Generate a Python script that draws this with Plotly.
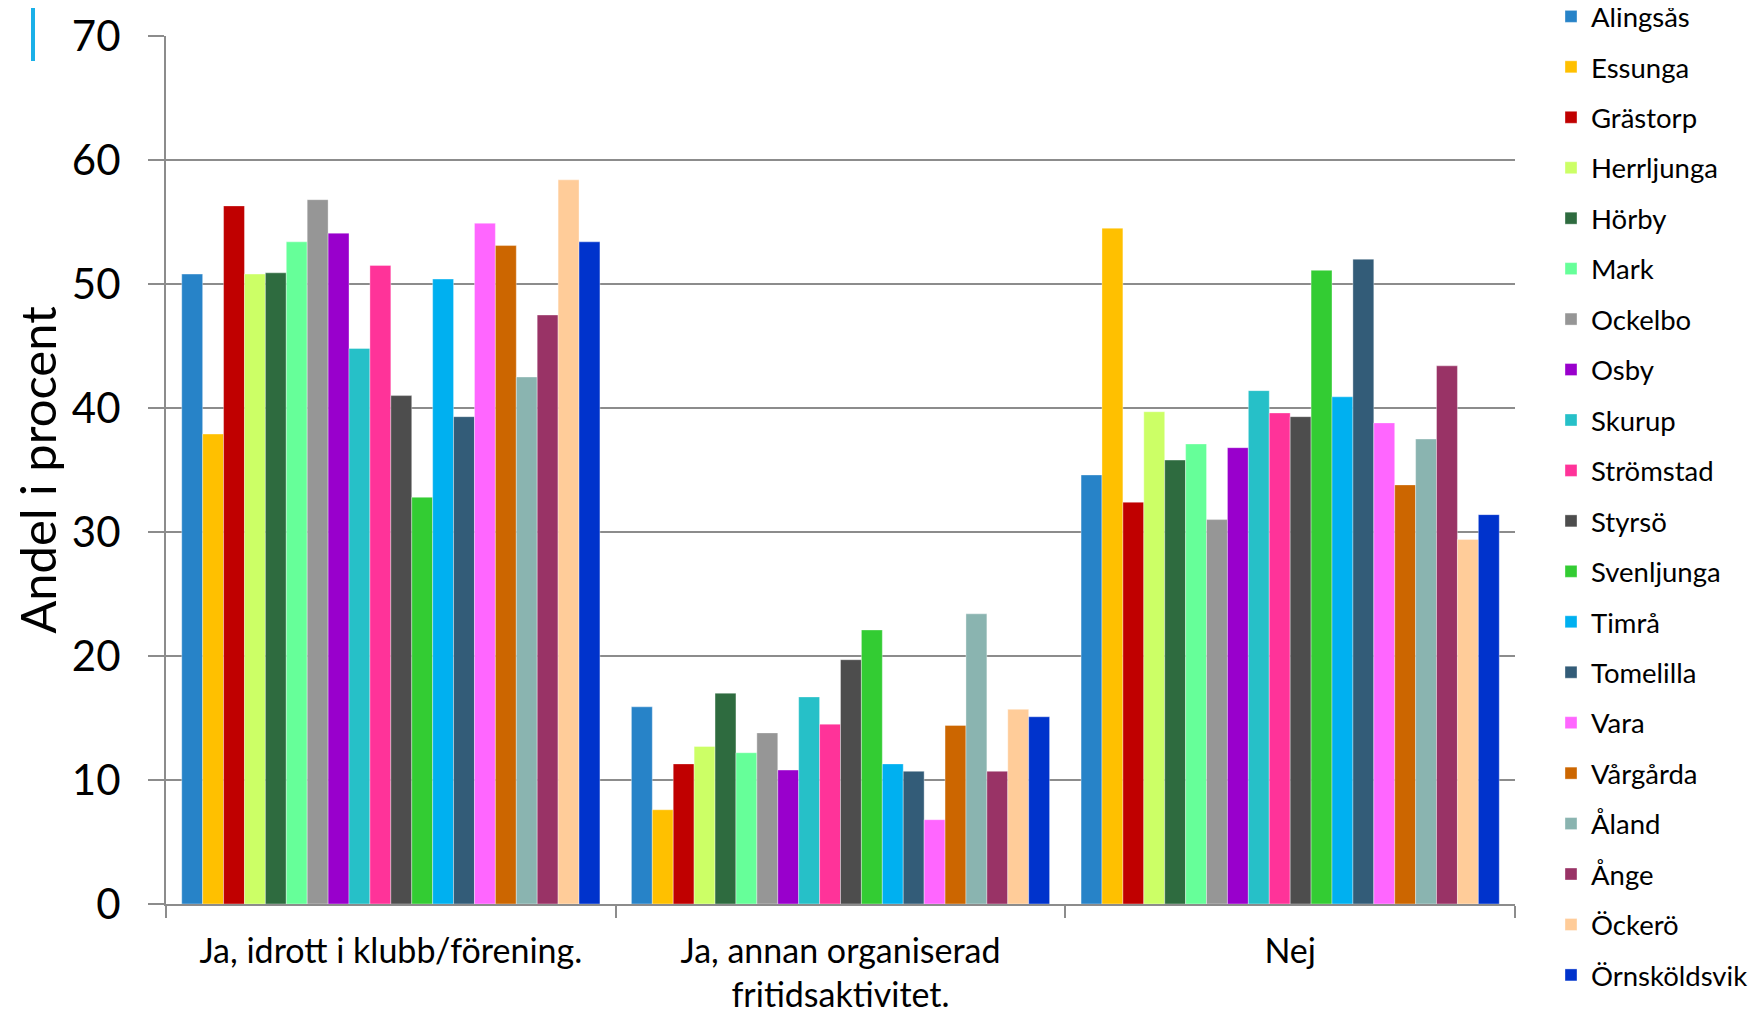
import plotly.graph_objects as go

categories = ["Ja, idrott i klubb/förening.", "Ja, annan organiserad<br>fritidsaktivitet.", "Nej"]

municipalities = ["Alingsås", "Essunga", "Grästorp", "Herrljunga", "Hörby", "Mark", "Ockelbo",
                  "Osby", "Skurup", "Strömstad", "Styrsö", "Svenljunga", "Timrå", "Tomelilla",
                  "Vara", "Vårgårda", "Åland", "Ånge", "Öckerö", "Örnsköldsvik"]

idrott = [50.8, 37.9, 56.3, 50.8, 50.9, 53.4, 56.8, 54.1, 44.8, 51.5,
          41.0, 32.8, 50.4, 39.3, 54.9, 53.1, 42.5, 47.5, 58.4, 53.4]
annan = [15.9, 7.6, 11.3, 12.7, 17.0, 12.2, 13.8, 10.8, 16.7, 14.5,
         19.7, 22.1, 11.3, 10.7, 6.8, 14.4, 23.4, 10.7, 15.7, 15.1]
nej = [34.6, 54.5, 32.4, 39.7, 35.8, 37.1, 31.0, 36.8, 41.4, 39.6,
       39.3, 51.1, 40.9, 52.0, 38.8, 33.8, 37.5, 43.4, 29.4, 31.4]

colors = ["#2783C8", "#FFC000", "#C00000", "#CCFF66", "#2E6B3F", "#66FF99", "#969696",
          "#9900CC", "#26C0C8", "#FF3399", "#4D4D4D", "#33CC33", "#00B0F0", "#335C78",
          "#FF66FF", "#CC6600", "#8AB4B0", "#993366", "#FFCC99", "#0033CC"]

y_ticks = [0, 10, 20, 30, 40, 50, 60, 70]

fig = go.Figure()
for i, name in enumerate(municipalities):
    fig.add_trace(go.Bar(
        x=categories,
        y=[idrott[i], annan[i], nej[i]],
        name=name,
        legendgroup=name,
        marker=dict(color=colors[i], line=dict(width=0.6, color="rgba(255,255,255,0.6)")),
    ))

# page has an 8px body margin, so figure coords = page coords - 8
W, H = 1748, 1004
ml, mt = 158, 28
pw, ph = 1349, 868
mr = W - ml - pw
mb = H - mt - ph

fig.update_layout(
    width=W, height=H,
    margin=dict(l=ml, r=mr, t=mt, b=mb, autoexpand=False),
    paper_bgcolor="white", plot_bgcolor="white",
    barmode="group", bargap=0.07, bargroupgap=0,
    font=dict(family="Lato", color="#000000"),
    legend=dict(
        x=1 + (1543 - (W - mr)) / pw, xanchor="left",
        y=1 + (mt + 16) / ph, yanchor="top",
        font=dict(size=27.5, family="Lato", color="#000000"),
        tracegroupgap=11.7,
        maxheight=1100,
        bgcolor="rgba(0,0,0,0)",
    ),
    xaxis=dict(
        type="category",
        tickson="boundaries",
        ticks="outside", ticklen=12, tickwidth=2, tickcolor="#8C8C8C",
        showline=True, linecolor="#8C8C8C", linewidth=2,
        showgrid=False,
        tickfont=dict(size=34, family="Lato", color="#000000"),
        ticklabelstandoff=16,
    ),
    yaxis=dict(
        range=[0, 70],
        tickvals=y_ticks,
        ticks="outside", ticklen=16, tickwidth=2, tickcolor="#8C8C8C",
        showline=True, linecolor="#8C8C8C", linewidth=2,
        showgrid=True, gridcolor="#8C8C8C", gridwidth=2,
        zeroline=False,
        tickfont=dict(size=42, family="Lato", color="#000000"),
        ticklabelstandoff=19,
        title=dict(text="Andel i procent", font=dict(size=49, family="Lato", color="#000000"), standoff=8),
    ),
    showlegend=True,
)

# decorative blue accent at top-left
fig.add_shape(
    type="line", xref="paper", yref="paper",
    x0=(25 - ml) / pw, x1=(25 - ml) / pw,
    y0=1 + (mt - 53) / ph, y1=1 + (mt + 8) / ph,
    line=dict(color="#1AB0E8", width=4),
)

fig.write_html("out.html")
